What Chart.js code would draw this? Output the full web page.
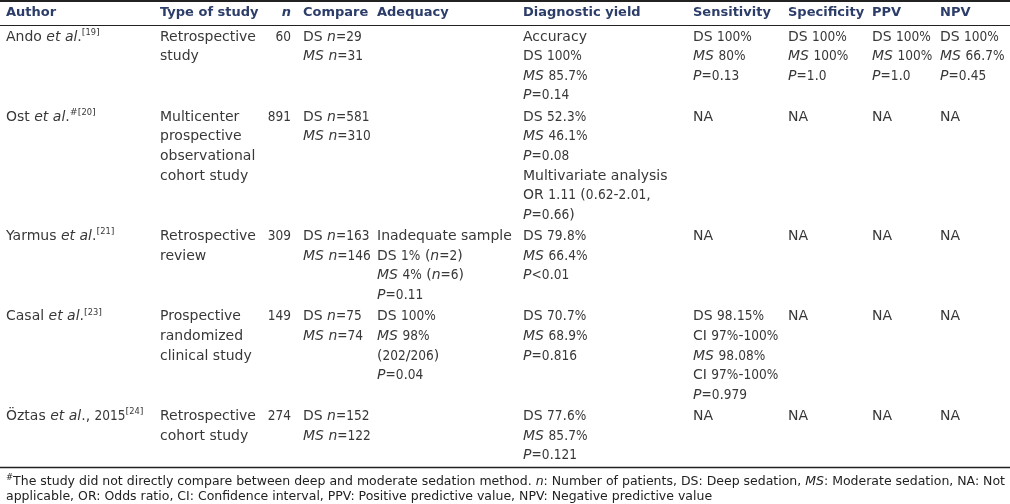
<!DOCTYPE html>
<html><head><meta charset="utf-8">
<script src="https://cdn.jsdelivr.net/npm/chart.js@4.4.1/dist/chart.umd.min.js"></script>
<style>html,body{margin:0;padding:0;background:#fff}#wrap{width:1010px;height:504px;position:relative}</style>
</head><body><div id="wrap"><canvas id="c"></canvas></div>
<script>
// ---- DATA (markup: *italic*, ^superscript^) ----
const headers = ["Author", "Type of study", "*n*", "Compare", "Adequacy", "Diagnostic yield", "Sensitivity", "Specificity", "PPV", "NPV"];
const authors = ["Ando *et al*.^[19]^", "Ost *et al*.^#[20]^", "Yarmus *et al*.^[21]^", "Casal *et al*.^[23]^", "Öztas *et al*., 2015^[24]^"];
const studyTypes = [["Retrospective", "study"], ["Multicenter", "prospective", "observational", "cohort study"], ["Retrospective", "review"], ["Prospective", "randomized", "clinical study"], ["Retrospective", "cohort study"]];
const sampleSizes = [60, 891, 309, 149, 274];
const compare = [["DS *n*=29", "*MS n*=31"], ["DS *n*=581", "*MS n*=310"], ["DS *n*=163", "*MS n*=146"], ["DS *n*=75", "*MS n*=74"], ["DS *n*=152", "*MS n*=122"]];
const adequacy = [[], [], ["Inadequate sample", "DS 1% (*n*=2)", "*MS* 4% (*n*=6)", "*P*=0.11"], ["DS 100%", "*MS* 98%", "(202/206)", "*P*=0.04"], []];
const diagnosticYield = [["Accuracy", "DS 100%", "*MS* 85.7%", "*P*=0.14"], ["DS 52.3%", "*MS* 46.1%", "*P*=0.08", "Multivariate analysis", "OR 1.11 (0.62-2.01,", "*P*=0.66)"], ["DS 79.8%", "*MS* 66.4%", "*P*<0.01"], ["DS 70.7%", "*MS* 68.9%", "*P*=0.816"], ["DS 77.6%", "*MS* 85.7%", "*P*=0.121"]];
const sensitivity = [["DS 100%", "*MS* 80%", "*P*=0.13"], ["NA"], ["NA"], ["DS 98.15%", "CI 97%-100%", "*MS* 98.08%", "CI 97%-100%", "*P*=0.979"], ["NA"]];
const specificity = [["DS 100%", "*MS* 100%", "*P*=1.0"], ["NA"], ["NA"], ["NA"], ["NA"]];
const ppv = [["DS 100%", "*MS* 100%", "*P*=1.0"], ["NA"], ["NA"], ["NA"], ["NA"]];
const npv = [["DS 100%", "*MS* 66.7%", "*P*=0.45"], ["NA"], ["NA"], ["NA"], ["NA"]];
const footnotes = ["^#^The study did not directly compare between deep and moderate sedation method. *n*: Number of patients, DS: Deep sedation, *MS*: Moderate sedation, NA: Not", "applicable, OR: Odds ratio, CI: Confidence interval, PPV: Positive predictive value, NPV: Negative predictive value"];

// ---- LAYOUT / STYLE ----
const L = {
  colX: [6, 160, 291, 303, 377, 523, 693, 788, 872, 940],
  colAlign: ['left', 'left', 'right', 'left', 'left', 'left', 'left', 'left', 'left', 'left'],
  headerY: 13, bodyTop: 37, lineH: 19.6, rowGap: 1.8,
  topRule: 1, headRule: 25.5, bottomRule: 467.5,
  footX: 6, footY: [482, 497],
  family: "'DejaVu Sans', sans-serif",
  bodySize: 14, headSize: 13, footSize: 12.5, supScale: 0.68, digitScale: 0.87,
  headColor: '#2b3d68', bodyColor: '#383838', footColor: '#222222', ruleColor: '#222222'
};

const columns = [authors.map(a => [a]), studyTypes, sampleSizes.map(v => [String(v)]), compare, adequacy, diagnosticYield, sensitivity, specificity, ppv, npv];

const rowCount = authors.length;
const rowLines = [];
for (let r = 0; r < rowCount; r++) rowLines.push(Math.max(...columns.map(c => c[r].length)));
const rowTopY = [];
let yCur = L.bodyTop;
for (let r = 0; r < rowCount; r++) { rowTopY.push(yCur); yCur += rowLines[r] * L.lineH + L.rowGap; }

const datasets = [];
datasets.push({ role: 'header', data: headers.map((h, i) => ({ x: L.colX[i], y: L.headerY, text: h, align: L.colAlign[i] })) });
columns.forEach((col, ci) => {
  const pts = [];
  col.forEach((lines, r) => lines.forEach((t, k) => pts.push({ x: L.colX[ci], y: rowTopY[r] + k * L.lineH, text: t, align: L.colAlign[ci] })));
  datasets.push({ role: 'body', data: pts });
});
datasets.push({ role: 'foot', data: footnotes.map((t, i) => ({ x: L.footX, y: L.footY[i], text: t, align: 'left' })) });
datasets.forEach(d => { d.pointRadius = 0; d.pointHoverRadius = 0; d.showLine = false; });

function parse(s) {
  const segs = []; let it = false, sup = false, buf = '';
  const push = () => {
    if (buf) {
      (buf.match(/[0-9=%<]+|[^0-9=%<]+/g) || []).forEach(run => segs.push({ t: run, it, sup, dig: /^[0-9=%<]/.test(run) }));
    }
    buf = '';
  };
  for (const ch of s) {
    if (ch === '*') { push(); it = !it; }
    else if (ch === '^') { push(); sup = !sup; }
    else buf += ch;
  }
  push(); return segs;
}
function fontFor(seg, size, bold) {
  const sz = seg.sup ? size * L.supScale : size;
  return (seg.it ? 'italic ' : '') + (bold ? 'bold ' : '') + sz + 'px ' + L.family;
}
function drawRich(ctx, s, x, y, align, size, bold, color) {
  const segs = parse(s);
  let w = 0;
  segs.forEach(sg => {
    ctx.font = fontFor(sg, size, bold);
    sg.k = sg.dig ? L.digitScale : 1;
    sg.w = ctx.measureText(sg.t).width * sg.k; w += sg.w;
  });
  let cx = align === 'right' ? x - w : x;
  ctx.fillStyle = color; ctx.textBaseline = 'middle'; ctx.textAlign = 'left';
  segs.forEach(sg => {
    ctx.font = fontFor(sg, size, bold);
    const yy = sg.sup ? y - size * 0.33 : y;
    ctx.save(); ctx.translate(cx, yy); ctx.scale(sg.k, 1);
    ctx.fillText(sg.t, 0, 0);
    ctx.restore();
    cx += sg.w;
  });
}

const tablePlugin = {
  id: 'tableText',
  afterDatasetsDraw(chart) {
    const ctx = chart.ctx; const xs = chart.scales.x, ys = chart.scales.y;
    ctx.save();
    const rule = (yv, lw) => {
      ctx.beginPath(); ctx.lineWidth = lw; ctx.strokeStyle = L.ruleColor;
      ctx.moveTo(xs.getPixelForValue(0), ys.getPixelForValue(yv));
      ctx.lineTo(xs.getPixelForValue(1010), ys.getPixelForValue(yv)); ctx.stroke();
    };
    rule(L.topRule, 2); rule(L.headRule, 1); rule(L.bottomRule, 1.5);
    chart.data.datasets.forEach((ds, di) => {
      const meta = chart.getDatasetMeta(di);
      meta.data.forEach((el, i) => {
        const p = ds.data[i];
        if (ds.role === 'header') drawRich(ctx, p.text, el.x, el.y, p.align, L.headSize, true, L.headColor);
        else if (ds.role === 'foot') drawRich(ctx, p.text, el.x, el.y, p.align, L.footSize, false, L.footColor);
        else drawRich(ctx, p.text, el.x, el.y, p.align, L.bodySize, false, L.bodyColor);
      });
    });
    ctx.restore();
  }
};

new Chart(document.getElementById('c'), {
  type: 'scatter',
  data: { datasets },
  options: {
    responsive: true, maintainAspectRatio: false, animation: false,
    layout: { padding: 0 },
    plugins: { legend: { display: false }, tooltip: { enabled: false } },
    scales: {
      x: { type: 'linear', min: 0, max: 1010, display: false },
      y: { type: 'linear', min: 0, max: 504, reverse: true, display: false }
    }
  },
  plugins: [tablePlugin]
});
</script></body></html>
